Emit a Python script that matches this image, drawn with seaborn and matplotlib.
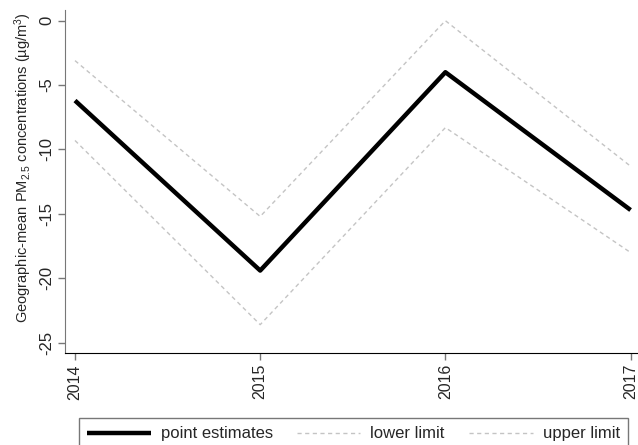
import pandas as pd
import matplotlib
matplotlib.use('Agg')
import matplotlib.pyplot as plt
import seaborn as sns

years = [2014, 2015, 2016, 2017]
point_est = [-6.2, -19.4, -4.0, -14.7]
lower_lim = [-9.3, -23.6, -8.3, -18.0]
upper_lim = [-3.1, -15.2, 0.0, -11.3]
y_ticks = [0, -5, -10, -15, -20, -25]

sns.set_style('white')
plt.rcParams['font.family'] = ['Liberation Sans', 'DejaVu Sans']
plt.rcParams['mathtext.fontset'] = 'custom'
plt.rcParams['mathtext.rm'] = 'Liberation Sans'
plt.rcParams['mathtext.it'] = 'Liberation Sans'

df = pd.DataFrame({'year': years, 'point': point_est, 'lower': lower_lim, 'upper': upper_lim})

fig = plt.figure(figsize=(6.38, 4.45), dpi=100)
ax = fig.add_axes([65 / 638, 92 / 445, 573 / 638, 343 / 445])

sns.lineplot(data=df, x='year', y='point', ax=ax, color='black', linewidth=3.2,
             label='point estimates', solid_capstyle='butt')
sns.lineplot(data=df, x='year', y='lower', ax=ax, color='#c4c4c4', linewidth=1.0,
             linestyle=(0, (3, 2.5)), label='lower limit')
sns.lineplot(data=df, x='year', y='upper', ax=ax, color='#c4c4c4', linewidth=1.0,
             linestyle=(0, (3, 2.5)), label='upper limit')

ax.set_xlim(2013.946, 2017.04)
ax.set_ylim(-25.8, 0.83)
ax.set_xticks(years)
ax.set_xticklabels([str(y) for y in years], rotation=90, fontsize=11.5)
ax.set_yticks(y_ticks)
ax.set_yticklabels([str(t) for t in y_ticks], rotation=90, va='center', fontsize=12)
ax.tick_params(axis='both', direction='out', length=5, width=1, color='#777777',
               left=True, bottom=True, pad=3)

ax.spines['top'].set_visible(False)
ax.spines['right'].set_visible(False)
ax.spines['left'].set_color('#777777')
ax.spines['bottom'].set_color('black')

ax.set_xlabel('')
ax.set_ylabel('Geographic-mean PM$_{2.5}$ concentrations (µg/m$^{3}$)', fontsize=10.5)
ax.yaxis.set_label_coords(-0.054, 0.542)

ax.legend_.remove()
handles, labels = ax.get_legend_handles_labels()
fig.legend(handles, labels, ncol=3, loc='upper left', mode='expand',
           bbox_to_anchor=(79 / 638, 0, 549 / 638, 27 / 445),
           frameon=True, fancybox=False, edgecolor='#555555', fontsize=12,
           handlelength=3.8, handletextpad=0.6, borderaxespad=0, borderpad=0.5)

fig.savefig('out.png', dpi=100)
